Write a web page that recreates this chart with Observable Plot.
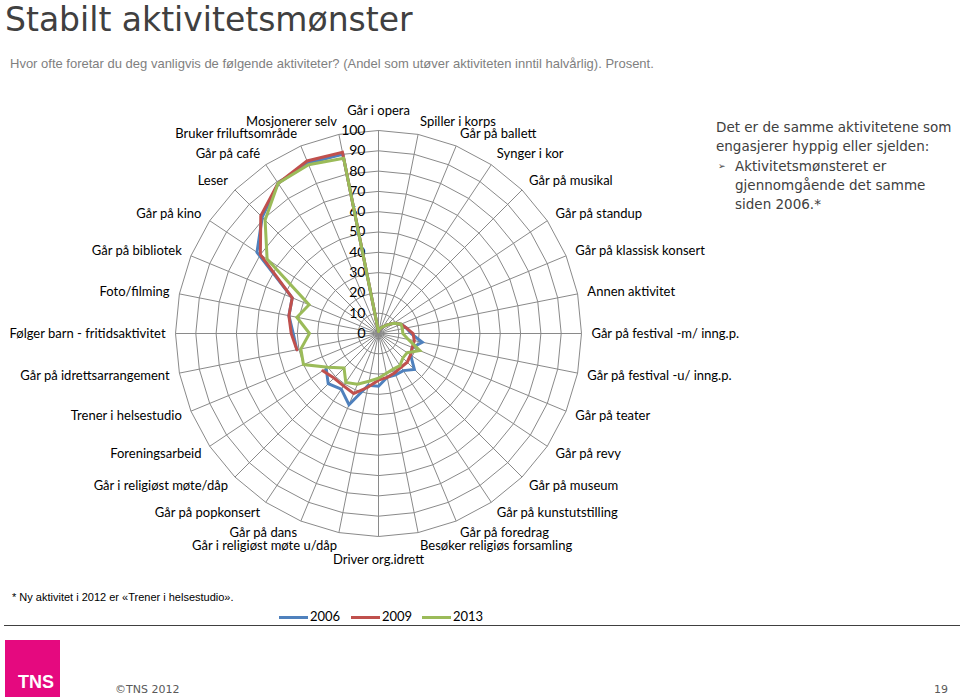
<!DOCTYPE html>
<html><head><meta charset="utf-8">
<script src="https://cdn.jsdelivr.net/npm/d3@7"></script>
<script src="https://cdn.jsdelivr.net/npm/@observablehq/plot@0.6"></script>
<style>
body{margin:0;width:960px;height:697px;overflow:hidden;background:#fff;position:relative;}
.abs{position:absolute;white-space:nowrap;}
#title{left:5px;top:0px;font:33px "DejaVu Sans";color:#404040;line-height:39px;}
#subtitle{left:10px;top:56px;font:13px "Liberation Sans";color:#7f7f7f;}
#side{left:716px;top:118px;font:13.5px "DejaVu Sans";color:#404040;line-height:19.3px;}
#side .b{position:relative;padding-left:19px;}
#side .b:before{content:"➢";position:absolute;left:2px;top:0;font-size:9px;}
#chart{left:0;top:95px;}
#note{left:12px;top:591px;font:11px "Liberation Sans";color:#000;}
#legend{left:0;top:608px;font:13px Lato;color:#000;}
#rule{left:4px;top:625px;width:956px;height:0;border-top:1.5px solid #404040;}
#logo{left:5px;top:640px;width:55px;height:57px;background:#e5097f;}
#logo span{position:absolute;left:13px;top:32px;font:bold 18px "Liberation Sans";color:#fff;}
#copy{left:115px;top:683px;font:11px "DejaVu Sans";color:#595959;}
#page{left:934px;top:683px;font:11px "DejaVu Sans";color:#595959;}
</style></head><body>
<div id="title" class="abs">Stabilt aktivitetsmønster</div>
<div id="subtitle" class="abs">Hvor ofte foretar du deg vanligvis de følgende aktiviteter? (Andel som utøver aktiviteten inntil halvårlig). Prosent.</div>
<div id="chart" class="abs"></div>
<div id="side" class="abs">Det er de samme aktivitetene som<br>engasjerer hyppig eller sjelden:<div class="b">Aktivitetsmønsteret er<br>gjennomgående det samme<br>siden 2006.*</div></div>
<div id="note" class="abs">* Ny aktivitet i 2012 er «Trener i helsestudio».</div>
<div id="legend" class="abs"></div>
<div id="rule" class="abs"></div>
<div id="logo" class="abs"><span>TNS</span></div>
<div id="copy" class="abs">©TNS 2012</div>
<div id="page" class="abs">19</div>
<script>
const categories = ["Går i opera","Spiller i korps","Går på ballett","Synger i kor","Går på musikal","Går på standup","Går på klassisk konsert","Annen aktivitet","Går på festival -m/ inng.p.","Går på festival -u/ inng.p.","Går på teater","Går på revy","Går på museum","Går på kunstutstilling","Går på foredrag","Besøker religiøs forsamling","Driver org.idrett","Går i religiøst møte u/dåp","Går på dans","Går på popkonsert","Går i religiøst møte/dåp","Foreningsarbeid","Trener i helsestudio","Går på idrettsarrangement","Følger barn - fritidsaktivitet","Foto/filming","Går på bibliotek","Går på kino","Leser","Går på café","Bruker friluftsområde","Mosjonerer selv"];
const values2006 = [1,2,3,4,6,9,12,14,16,22,18,19,25,22,22,22,26,26,38,33,35,31,null,41,42,45,46,72,81,89,91,90];
const values2009 = [1,2,3,4,6,9,12,14,17,18,18,19,20,20,21,22,23,27,32,31,31,33,null,41,43,45,46,70,82,89,92,91];
const values2013 = [1,2,3,4,6,9,12,12,12,15,22,17,17,19,19,20,22,24,27,29,24,30,40,39,34,41,37,66,79,89,90,88];
const years = ["2006","2009","2013"];
const colors = ["#4f81bd","#c0504d","#9bbb59"];
const ringTicks = [0,10,20,30,40,50,60,70,80,90,100];

const series = [values2006, values2009, values2013];
const n = categories.length;
const ang = i => (i % n) * 2 * Math.PI / n;

const rows = [];
years.forEach((yr, s) => {
  for (let i = 0; i <= n; i++) {
    const v = series[s][i % n];
    rows.push({year: yr, i, value: v});
  }
});
const rings = [];
ringTicks.filter(t => t > 0).forEach(t => {
  for (let i = 0; i <= n; i++) rings.push({t, i});
});
const spokes = categories.map((c, i) => ({c, i}));
const R = 104.9;

const W = 960, H = 480, k = 2.03, cx = 378, cy = 238;

const chart = Plot.plot({
  width: W, height: H,
  marginLeft: 0, marginRight: 0, marginTop: 0, marginBottom: 0,
  x: {type: "linear", domain: [-cx / k, (W - cx) / k], range: [0, W], axis: null},
  y: {type: "linear", domain: [-(H - cy) / k, cy / k], range: [H, 0], axis: null},
  color: {domain: years, range: colors},
  style: {fontFamily: "Lato", fontSize: "13px", color: "#000"},
  marks: [
    Plot.link(spokes, {x1: 0, y1: 0, x2: d => 100 * Math.sin(ang(d.i)), y2: d => 100 * Math.cos(ang(d.i)), stroke: "#8a8a8a", strokeWidth: 1}),
    Plot.line(rings, {x: d => d.t * Math.sin(ang(d.i)), y: d => d.t * Math.cos(ang(d.i)), z: "t", stroke: "#8a8a8a", strokeWidth: 1}),
    Plot.text(ringTicks, {x: 0, y: d => d, text: d => String(d), textAnchor: "end", dx: -13, fontSize: 14, fill: "#000"}),
    Plot.line(rows, {
      x: d => d.value == null ? NaN : d.value * Math.sin(ang(d.i)),
      y: d => d.value == null ? NaN : d.value * Math.cos(ang(d.i)),
      z: "year", stroke: "year", strokeWidth: 3, strokeLinejoin: "miter", strokeMiterlimit: 4
    }),
    Plot.text(spokes.filter(d => d.i > 0 && d.i < n / 2), {x: d => R * Math.sin(ang(d.i)), y: d => (R + 1.5) * Math.cos(ang(d.i)), text: "c", textAnchor: "start", fill: "#000"}),
    Plot.text(spokes.filter(d => d.i > n / 2), {x: d => R * Math.sin(ang(d.i)), y: d => (R + 1.5) * Math.cos(ang(d.i)), text: "c", textAnchor: "end", fill: "#000"}),
    Plot.text(spokes.filter(d => d.i === 0), {x: 0, y: R, text: "c", textAnchor: "middle", dy: -10, fill: "#000"}),
    Plot.text(spokes.filter(d => d.i === n / 2), {x: 0, y: -R, text: "c", textAnchor: "middle", dy: 13, fill: "#000"})
  ]
});
document.getElementById("chart").appendChild(chart);

// legend
const lg = document.getElementById("legend");
const lx = [279, 351, 422];
years.forEach((yr, s) => {
  const line = document.createElement("div");
  line.style.cssText = `position:absolute;left:${lx[s]}px;top:8px;width:29px;height:3px;background:${colors[s]};`;
  const t = document.createElement("div");
  t.style.cssText = `position:absolute;left:${lx[s] + 31}px;top:0px;white-space:nowrap;`;
  t.textContent = yr;
  lg.appendChild(line); lg.appendChild(t);
});
</script>
</body></html>
